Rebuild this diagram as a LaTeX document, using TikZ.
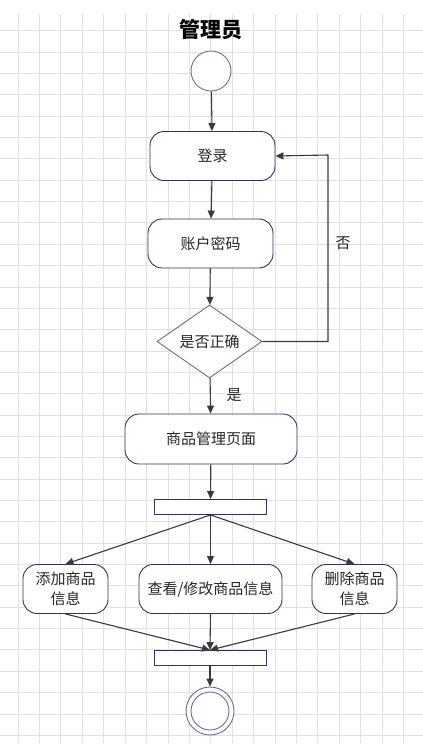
\documentclass[tikz,border=0pt]{standalone}
\usepackage{fontspec}
\setmainfont{Noto Sans CJK SC}
\usepackage{tikz}
\usetikzlibrary{positioning,arrows.meta,shapes.geometric}
\definecolor{ink}{HTML}{3A3A3A}
\definecolor{frame}{HTML}{2F3362}
\definecolor{soft}{HTML}{6B6E93}
\definecolor{gridc}{HTML}{E0E0E0}

\begin{document}
\begin{tikzpicture}[
  x=1pt, y=-1pt,
  actbox/.style  = {draw=frame, fill=white, rounded corners=14pt, line width=0.9pt, align=center,
                  font=\fontsize{15}{20}\selectfont, text=black!85, minimum height=49pt, inner sep=1pt},
  syncbar/.style = {draw=frame, fill=white, line width=0.9pt, minimum width=112pt,
                  minimum height=15pt, inner sep=0pt},
  dot/.style     = {draw=soft, fill=white, circle, line width=0.9pt, inner sep=0pt},
  flow/.style    = {-{Triangle[length=8pt, width=7pt]}, line width=1.1pt, draw=ink},
  tag/.style     = {font=\fontsize{15}{16}\selectfont, text=black!85},
]

% canvas and grid
\useasboundingbox (0,0) rectangle (423,753);
\fill[white] (0,0) rectangle (423,753);
\foreach \i in {0,...,18}
  \draw[gridc, line width=0.8pt] (18+21.42*\i, 14) -- (18+21.42*\i, 743);
\foreach \j in {0,...,33}
  \draw[gridc, line width=0.8pt] (0, 30.7+21.35*\j) -- (423, 30.7+21.35*\j);

\node[font=\fontsize{21}{22}\selectfont\bfseries] (title) at (211,30) {管理员};

\node[dot, minimum size=40pt] (start) at (211,71) {};
\node[actbox, minimum width=125pt] (login) at (212.5,156) {登录};
\node[actbox, minimum width=125pt] (pwd) at (210.5,243.5) {账户密码};
\node[draw=soft, fill=white, diamond, line width=0.9pt, inner sep=0pt, aspect=1.44,
      minimum width=105pt, minimum height=73pt, font=\fontsize{15}{16}\selectfont,
      text=black!85] (check) at (209.5,341.5) {是否正确};
\node[actbox, minimum width=172pt, minimum height=50pt] (manage) at (211,439) {商品管理页面};

\node[syncbar] (fork) at (210.5,507) {};
\node[actbox, minimum width=85pt] (add) at (65.5,589) {添加商品\\信息};
\node[actbox, minimum width=143pt] (edit) at (210.5,589) {查看/修改商品信息};
\node[actbox, minimum width=85pt] (del) at (354.5,589) {删除商品\\信息};
\node[syncbar] (join) at (210,658) {};

\node[dot, minimum size=48pt] (stop) at (210,711) {};
\node[dot, minimum size=38pt] (stopin) at (210,711) {};

\coordinate (turn) at (328,155);
\node[tag] (no) at (343,243) {否};
\node[tag] (yes) at (234,395) {是};

\draw[flow] (start) -- (login);
\draw[flow] (login) -- (pwd);
\draw[flow] (pwd) -- (check);
\draw[flow] (check.east) -| (turn) -- (login.east);
\draw[flow] (check) -- (manage);
\draw[flow] (manage) -- (fork);
\draw[flow] (fork.south) -- (add.north);
\draw[flow] (fork.south) -- (edit.north);
\draw[flow] (fork.south) -- (del.north);
\draw[flow] (add.south) -- (join.north);
\draw[flow] (edit.south) -- (join.north);
\draw[flow] (del.south) -- (join.north);
\draw[flow] (join) -- (stop);

\end{tikzpicture}
\end{document}
